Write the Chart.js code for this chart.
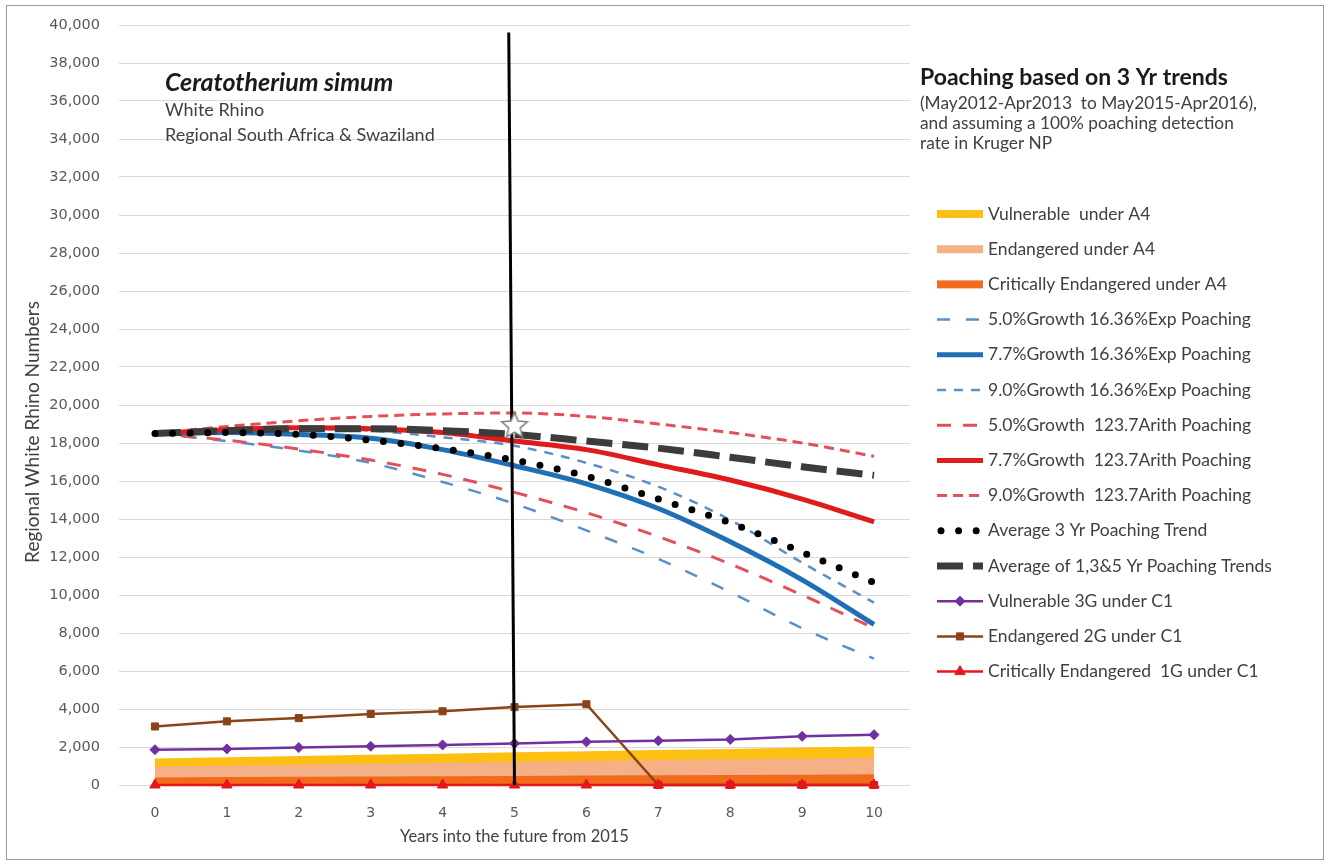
<!DOCTYPE html>
<html>
<head>
<meta charset="utf-8">
<title>White Rhino projections</title>
<script src="https://cdn.jsdelivr.net/npm/chart.js@4.4.1/dist/chart.umd.min.js"></script>
<style>
    html, body { margin: 0; padding: 0; background: #fff; }
    #frame {
        position: absolute; left: 6px; top: 5px;
        width: 1316px; height: 853px;
        border: 1px solid #9a9a9a;
    }
    canvas { display: block; }
</style>
</head>
<body>
<div id="frame"><canvas id="rhinoChart" width="1316" height="853"></canvas></div>
<script>
// Years into the future from 2015
const years = [0, 1, 2, 3, 4, 5, 6, 7, 8, 9, 10];

// IUCN threshold bands (A4)
const vulnerableA4 = [1400, 1460, 1530, 1590, 1650, 1720, 1780, 1840, 1900, 1970, 2030];
const endangeredA4 = [980, 1030, 1070, 1120, 1170, 1210, 1260, 1310, 1360, 1400, 1450];
const critEndA4 = [400, 420, 430, 450, 460, 480, 500, 510, 530, 540, 560];

// IUCN C1 thresholds
const vulnerable3G = [1860, 1900, 1970, 2040, 2110, 2190, 2270, 2330, 2400, 2560, 2650];
const endangered2G = [3080, 3350, 3520, 3740, 3880, 4100, 4250, 0, 0, 0, 0];
const critEnd1G = [0, 0, 0, 0, 0, 0, 0, 0, 0, 0, 0];

// Exponential poaching scenarios (16.36%)
const exp50 = [18500, 18100, 17600, 16950, 15950, 14800, 13400, 11900, 10150, 8250, 6650];
const exp77 = [18500, 18550, 18450, 18250, 17650, 16800, 15850, 14550, 12800, 10800, 8450];
const exp90 = [18500, 18700, 18750, 18650, 18300, 17850, 16950, 15700, 13950, 11700, 9600];

// Arithmetic poaching scenarios (123.7)
const arith50 = [18500, 18150, 17680, 17100, 16350, 15400, 14330, 13070, 11630, 10000, 8250];
const arith77 = [18500, 18700, 18800, 18750, 18550, 18100, 17650, 16850, 16050, 15050, 13850];
const arith90 = [18500, 18870, 19170, 19400, 19530, 19580, 19400, 19000, 18550, 18000, 17300];

// Averages
const avg3yr = [18500, 18550, 18450, 18150, 17700, 17100, 16250, 15050, 13800, 12250, 10650];
const avg135 = [18500, 18650, 18750, 18750, 18650, 18450, 18100, 17730, 17250, 16750, 16300];

// "now" marker: vertical line and star
const markerLineX = [5, 4.92];
const markerLineY = [0, 39600];
const starX = 5;
const starY = 18950;

const yTicks = { min: 0, max: 40000, step: 2000 };

const TEXT = '#404040';
const FONT = "Lato, 'Open Sans', sans-serif";
const TICK_FONT = "'DejaVu Sans', Verdana, sans-serif";

function makeStar(size) {
    const c = document.createElement('canvas');
    c.width = c.height = size;
    const g = c.getContext('2d');
    const cx = size / 2, cy = size / 2 + 1;
    const R = size / 2 - 1.5, r = R * 0.45;
    g.beginPath();
    for (let i = 0; i < 10; i++) {
        const a = -Math.PI / 2 + i * Math.PI / 5;
        const rad = i % 2 ? r : R;
        g.lineTo(cx + rad * Math.cos(a), cy + rad * Math.sin(a));
    }
    g.closePath();
    g.fillStyle = '#ffffff';
    g.fill();
    g.strokeStyle = '#7f7f7f';
    g.lineWidth = 1.5;
    g.stroke();
    return c;
}

function curve(label, data, color, width, dash, order, legendIndex) {
    return {
        label, data, order, legendIndex,
        borderColor: color,
        backgroundColor: color,
        borderWidth: width,
        borderDash: dash,
        // a zero-length dash only shows up as a dot with a round cap
        borderCapStyle: dash.length && dash[0] === 0 ? 'round' : 'butt',
        pointRadius: 0,
        cubicInterpolationMode: 'monotone',
        fill: false
    };
}

function band(label, data, color, order, legendIndex) {
    return {
        label, data, order, legendIndex,
        borderWidth: 0,
        borderColor: color,
        backgroundColor: color,
        pointRadius: 0,
        fill: 'origin',
        isBand: true
    };
}

function markerLine(label, data, color, style, radius, order, legendIndex, pointColors) {
    return {
        label, data, order, legendIndex,
        borderColor: color,
        backgroundColor: color,
        borderWidth: 2.5,
        pointStyle: style,
        pointRadius: radius,
        pointBackgroundColor: pointColors || color,
        pointBorderColor: pointColors || color,
        pointBorderWidth: 1,
        clip: false,
        fill: false
    };
}

const RED = '#e3161c';
const BROWN = '#8a4418';

const datasets = [
    {
        label: 'now', order: 0,
        data: [{ x: starX, y: starY }],
        pointStyle: makeStar(30),
        pointRadius: 15,
        showLine: false
    },
    {
        label: 'marker', order: 1,
        data: markerLineX.map((x, i) => ({ x, y: markerLineY[i] })),
        borderColor: '#000000',
        borderWidth: 3,
        pointRadius: 0
    },
    curve('Average 3 Yr Poaching Trend', avg3yr, '#000000', 7, [0, 17.6], 2, 9),
    curve('Average of 1,3&5 Yr Poaching Trends', avg135, '#3c3c3c', 7, [26, 10], 3, 10),
    curve('7.7%Growth  123.7Arith Poaching', arith77, '#e01b1b', 5, [], 4, 7),
    curve('7.7%Growth 16.36%Exp Poaching', exp77, '#1f6fb4', 5, [], 5, 4),
    curve('9.0%Growth 16.36%Exp Poaching', exp90, '#5b8fc7', 2.5, [9, 8], 6, 5),
    curve('9.0%Growth  123.7Arith Poaching', arith90, '#e4505a', 3, [10, 6], 7, 8),
    curve('5.0%Growth  123.7Arith Poaching', arith50, '#e4505a', 3, [14, 12], 8, 6),
    curve('5.0%Growth 16.36%Exp Poaching', exp50, '#5b8fc7', 2.5, [13, 16], 9, 3),
    markerLine('Critically Endangered  1G under C1', critEnd1G, RED, 'triangle', 6, 10, 13),
    markerLine('Endangered 2G under C1', endangered2G, BROWN, 'rect', 5, 11, 12,
        endangered2G.map(v => v === 0 ? RED : BROWN)),
    markerLine('Vulnerable 3G under C1', vulnerable3G, '#7030a0', 'rectRot', 5, 12, 11),
    band('Critically Endangered under A4', critEndA4, '#f26a1b', 13, 2),
    band('Endangered under A4', endangeredA4, '#f5b185', 14, 1),
    band('Vulnerable  under A4', vulnerableA4, '#fdc012', 15, 0)
];

// Text notes, y title and the custom legend, drawn on top of the plot
const overlayPlugin = {
    id: 'overlay',
    afterDraw(chart) {
        const ctx = chart.ctx;
        ctx.save();
        ctx.textBaseline = 'middle';
        ctx.textAlign = 'left';

        // species note (top left of plot)
        ctx.fillStyle = '#1a1a1a';
        ctx.font = 'italic bold 25px ' + FONT;
        ctx.fillText('Ceratotherium simum', 158, 77);
        ctx.fillStyle = TEXT;
        ctx.font = '18px ' + FONT;
        ctx.fillText('White Rhino', 158, 104);
        ctx.fillText('Regional South Africa & Swaziland', 158, 129);

        // y axis title, rotated
        ctx.save();
        ctx.translate(26, 426);
        ctx.rotate(-Math.PI / 2);
        ctx.textAlign = 'center';
        ctx.font = '19px ' + FONT;
        ctx.fillText('Regional White Rhino Numbers', 0, 0);
        ctx.restore();

        // legend heading
        ctx.fillStyle = '#1a1a1a';
        ctx.font = 'bold 23px ' + FONT;
        ctx.fillText('Poaching based on 3 Yr trends', 913, 72);
        ctx.fillStyle = TEXT;
        ctx.font = '17.3px ' + FONT;
        ctx.fillText('(May2012-Apr2013  to May2015-Apr2016),', 913, 97);
        ctx.fillText('and assuming a 100% poaching detection', 913, 117);
        ctx.fillText('rate in Kruger NP', 913, 137);

        // legend rows
        const items = chart.data.datasets
            .filter(d => d.legendIndex !== undefined)
            .sort((a, b) => a.legendIndex - b.legendIndex);
        const x0 = 930, x1 = 976, textX = 981;
        items.forEach((d, i) => {
            const y = 208 + i * 35.2;
            if (d.isBand) {
                ctx.fillStyle = d.backgroundColor;
                ctx.fillRect(x0, y - 4, x1 - x0, 8);
            } else {
                ctx.save();
                ctx.strokeStyle = d.borderColor;
                ctx.lineWidth = d.borderWidth;
                ctx.setLineDash(d.borderDash || []);
                ctx.lineCap = d.borderCapStyle || 'butt';
                ctx.beginPath();
                ctx.moveTo(x0 + (ctx.lineCap === 'round' ? 4 : 0), y);
                ctx.lineTo(x1, y);
                ctx.stroke();
                ctx.restore();
                if (d.pointRadius && d.pointStyle) {
                    ctx.save();
                    ctx.fillStyle = d.borderColor;
                    ctx.strokeStyle = d.borderColor;
                    ctx.lineWidth = 1;
                    Chart.helpers.drawPoint(ctx, {
                        pointStyle: d.pointStyle, radius: d.pointRadius, rotation: 0, borderWidth: 1
                    }, (x0 + x1) / 2, y);
                    ctx.restore();
                }
            }
            ctx.fillStyle = TEXT;
            ctx.font = '17.5px ' + FONT;
            ctx.fillText(d.label, textX, y);
        });
        ctx.restore();
    }
};

new Chart(document.getElementById('rhinoChart').getContext('2d'), {
    type: 'line',
    data: { labels: years, datasets },
    options: {
        responsive: false,
        animation: false,
        layout: { padding: { left: 0, right: 413, top: 19, bottom: 0 } },
        plugins: {
            legend: { display: false },
            tooltip: { enabled: false }
        },
        scales: {
            x: {
                type: 'linear',
                min: -0.5,
                max: 10.5,
                afterBuildTicks: s => { s.ticks = years.map(v => ({ value: v })); },
                afterFit: s => { s.height = 74; },
                grid: { display: false, drawTicks: false },
                border: { display: false },
                ticks: {
                    padding: 20,
                    color: '#595959',
                    font: { family: TICK_FONT, size: 14 }
                },
                title: {
                    display: true,
                    text: 'Years into the future from 2015',
                    color: TEXT,
                    font: { family: FONT, size: 16.5 },
                    padding: { top: 4, bottom: 12 }
                }
            },
            y: {
                min: yTicks.min,
                max: yTicks.max,
                afterFit: s => {
                    s.width = 112;
                    // tick padding would otherwise push the plot top down
                    s.paddingTop = 0;
                    s.paddingBottom = 0;
                },
                grid: { color: '#d9d9d9', drawTicks: false },
                border: { display: false },
                ticks: {
                    stepSize: yTicks.step,
                    padding: 19,
                    color: '#595959',
                    font: { family: TICK_FONT, size: 14.5 },
                    callback: v => v.toLocaleString('en-US')
                }
            }
        }
    },
    plugins: [overlayPlugin]
});
</script>
</body>
</html>
